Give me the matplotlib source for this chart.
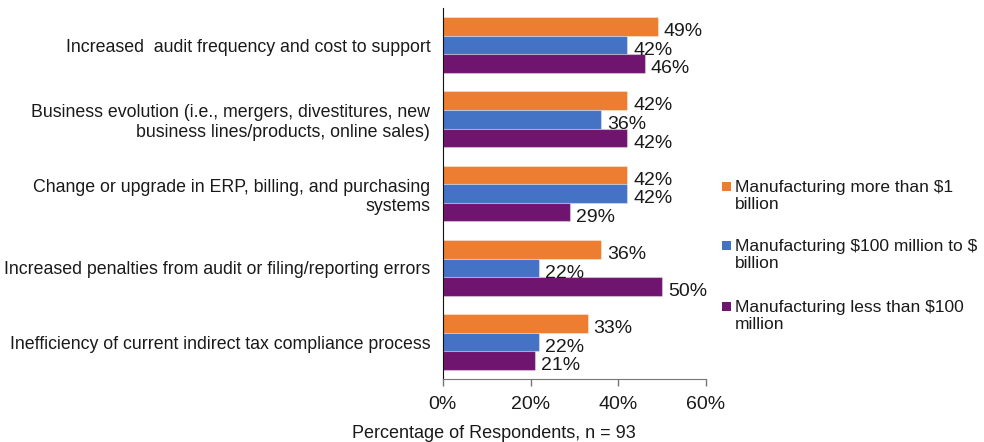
import matplotlib
matplotlib.use("Agg")
import matplotlib.pyplot as plt
from matplotlib.patches import Rectangle
import numpy as np
from matplotlib.ticker import FuncFormatter

plt.rcParams['font.family'] = ['Liberation Sans', 'DejaVu Sans']
plt.rcParams['text.parse_math'] = False

categories = [
    "Increased  audit frequency and cost to support",
    "Business evolution (i.e., mergers, divestitures, new\nbusiness lines/products, online sales)",
    "Change or upgrade in ERP, billing, and purchasing\nsystems",
    "Increased penalties from audit or filing/reporting errors",
    "Inefficiency of current indirect tax compliance process",
]
series_names = [
    "Manufacturing more than $1\nbillion",
    "Manufacturing $100 million to $\nbillion",
    "Manufacturing less than $100\nmillion",
]
more_than_1b = [49, 42, 42, 36, 33]
mid_100m_1b = [42, 36, 42, 22, 22]
less_than_100m = [46, 42, 29, 50, 21]
series_values = [more_than_1b, mid_100m_1b, less_than_100m]
colors = ["#ED7D31", "#4472C4", "#70156F"]
x_ticks = [0, 20, 40, 60]

text_color = "#1a1a1a"

fig = plt.figure(figsize=(9.84, 4.42), dpi=100)
ax = fig.add_axes([0.450, 0.142, 0.2675, 0.840])

n = len(categories)
y = np.arange(n)
h = 0.25
for i, (vals, col) in enumerate(zip(series_values, colors)):
    pos = y + (i - 1) * h
    ax.barh(pos, vals, height=h, color=col, edgecolor=(1, 1, 1, 0.35),
            linewidth=0.8)
    for p, v in zip(pos, vals):
        ax.text(v + 1.4, p + 0.07, f"{v}%", va="center", ha="left",
                fontsize=14, color=text_color)

ax.set_ylim(n - 0.5, -0.5)
ax.set_xlim(0, 60)
ax.set_xticks(x_ticks)
ax.xaxis.set_major_formatter(FuncFormatter(lambda v, _: f"{v:.0f}%"))
ax.set_yticks(y)
ax.set_yticklabels(categories, fontsize=12.8, multialignment="right", color=text_color)
ax.tick_params(axis="y", length=0, pad=9)
ax.tick_params(axis="x", length=5, width=1, color="#777777", labelsize=14,
               pad=7, labelcolor=text_color)
ax.spines["top"].set_visible(False)
ax.spines["right"].set_visible(False)
ax.spines["bottom"].set_color("#777777")
ax.spines["left"].set_color("#111111")

fig.text(494 / 984, 1 - 433 / 442, "Percentage of Respondents, n = 93",
         fontsize=13, ha="center", va="center", color=text_color)

# legend: square swatch aligned with the first line of each wrapped label
legend_tops = [180, 239, 300]
for top, col, name in zip(legend_tops, colors, series_names):
    fig.patches.append(Rectangle((722 / 984, 1 - (top + 11) / 442), 9 / 984, 9 / 442,
                                 transform=fig.transFigure, facecolor=col,
                                 edgecolor="none"))
    fig.text(735 / 984, 1 - top / 442, name, fontsize=12.5, ha="left", va="top",
             color=text_color, linespacing=1.18)

fig.savefig("out.png", dpi=100)
